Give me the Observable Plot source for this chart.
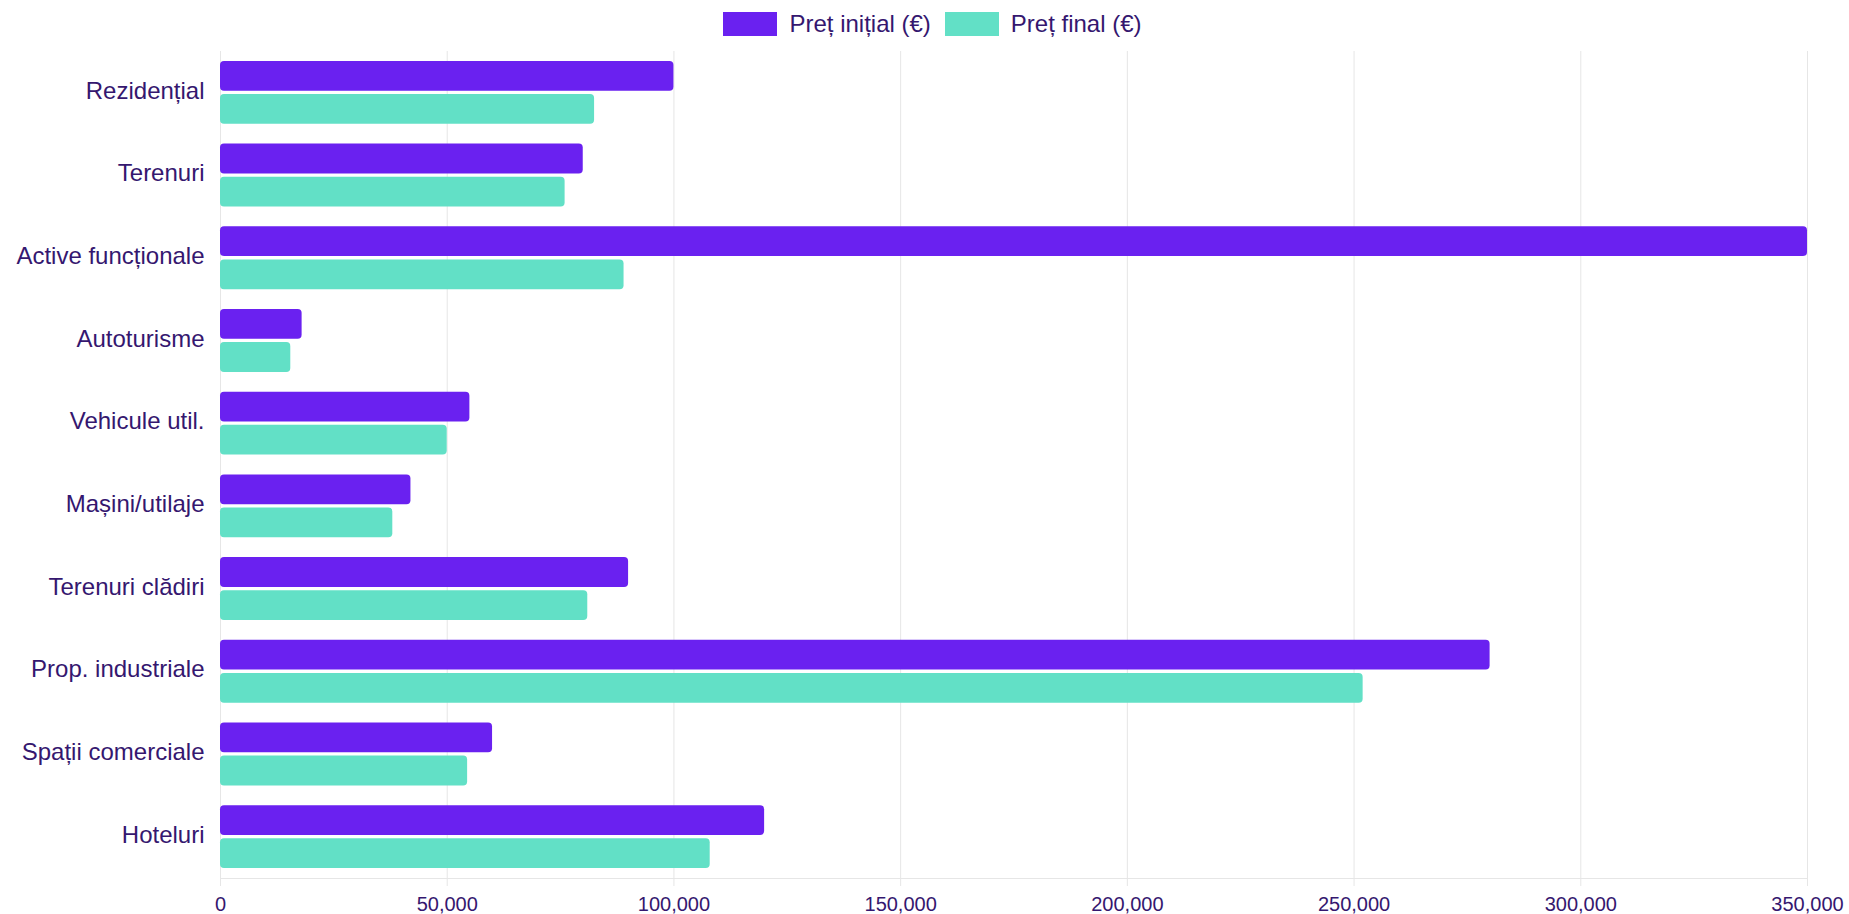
<!DOCTYPE html>
<html>
<head>
<meta charset="utf-8">
<script src="https://cdn.jsdelivr.net/npm/d3@7"></script>
<script src="https://cdn.jsdelivr.net/npm/@observablehq/plot@0.6"></script>
<style>
  html, body { margin: 0; padding: 0; background: #fff; }
  body { width: 1849px; height: 914px; overflow: hidden; font-family: "Liberation Sans", Arial, sans-serif; color: #35176f; }
  #legend { height: 48px; display: flex; justify-content: center; align-items: center; gap: 14px; padding-left: 16px; box-sizing: border-box; font-size: 24px; }
  .item { display: flex; align-items: center; gap: 12px; }
  .sw { width: 54px; height: 24px; display: inline-block; }
</style>
</head>
<body>
<div id="legend"></div>
<div id="chart"></div>
<script>
const categories = ["Rezidențial", "Terenuri", "Active funcționale", "Autoturisme", "Vehicule util.", "Mașini/utilaje", "Terenuri clădiri", "Prop. industriale", "Spații comerciale", "Hoteluri"];
const pretInitial = [100000, 80000, 350000, 18000, 55000, 42000, 90000, 280000, 60000, 120000];
const pretFinal = [82500, 76000, 89000, 15500, 50000, 38000, 81000, 252000, 54500, 108000];
const seriesNames = ["Preț inițial (€)", "Preț final (€)"];
const seriesColors = ["#6a21f0", "#62e0c6"];
const xTicks = [0, 50000, 100000, 150000, 200000, 250000, 300000, 350000];

const textColor = "#35176f";
const gridColor = "#e6e6e6";

// legend
const legend = document.getElementById("legend");
seriesNames.forEach((name, i) => {
  const it = document.createElement("div");
  it.className = "item";
  const sw = document.createElement("span");
  sw.className = "sw";
  sw.style.background = seriesColors[i];
  const t = document.createElement("span");
  t.textContent = name;
  it.appendChild(sw); it.appendChild(t);
  legend.appendChild(it);
});

const data = categories.map((c, i) => ({cat: c, init: pretInitial[i], fin: pretFinal[i]}));

const width = 1849, height = 866;
const marginTop = 3, marginBottom = 36, marginLeft = 220, marginRight = 42;
const paddingInner = 0.2, paddingOuter = 0.1;
const step = (height - marginTop - marginBottom) / (categories.length - paddingInner + 2 * paddingOuter);
const bandwidth = step * (1 - paddingInner);
const slot = bandwidth / 2;          // two bars per category
const barPad = slot * 0.05;          // bar occupies 90% of its slot

const chart = Plot.plot({
  width, height, marginTop, marginBottom, marginLeft, marginRight,
  style: {fontFamily: "'Liberation Sans', Arial, sans-serif", color: textColor, background: "#fff"},
  x: {domain: [0, 350000], round: false},
  y: {domain: categories, paddingInner, paddingOuter, round: false, align: 0.5},
  marks: [
    Plot.ruleX(xTicks, {stroke: gridColor, strokeWidth: 1}),
    Plot.frame({anchor: "bottom", stroke: gridColor}),
    Plot.barX(data, {x: "init", y: "cat", fill: seriesColors[0], insetTop: barPad, insetBottom: slot + barPad, rx: 4}),
    Plot.barX(data, {x: "fin", y: "cat", fill: seriesColors[1], insetTop: slot + barPad, insetBottom: barPad, rx: 4}),
    Plot.axisX({ticks: xTicks, tickFormat: d3.format(","), tickSize: 8, tickPadding: 10, fontSize: 20, stroke: gridColor, fill: textColor, label: null}),
    Plot.axisY({tickSize: 0, tickPadding: 16, fontSize: 24, fill: textColor, dy: -2, label: null})
  ]
});
document.getElementById("chart").appendChild(chart);
</script>
</body>
</html>
